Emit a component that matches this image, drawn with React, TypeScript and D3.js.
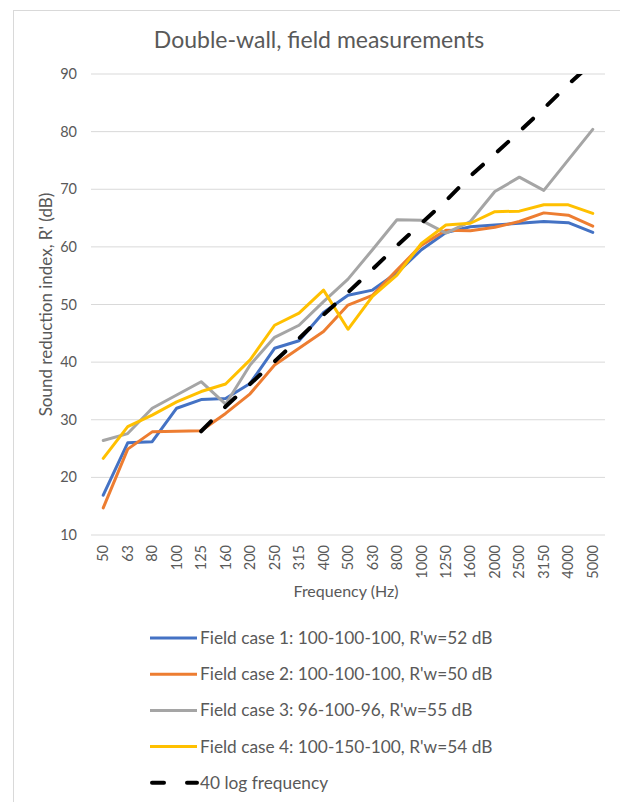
import React from "react";
import * as d3 from "d3";

const categories = ["50","63","80","100","125","160","200","250","315","400","500","630","800","1000","1250","1600","2000","2500","3150","4000","5000"];
const case1 = [16.9,26.0,26.2,32.0,33.5,33.7,36.3,42.4,43.7,48.6,51.6,52.5,55.5,59.5,62.5,63.5,63.8,64.1,64.4,64.2,62.5];
const case2 = [14.7,24.9,27.9,28.0,28.1,31.1,34.5,39.5,42.4,45.3,49.9,51.6,56.0,60.3,62.9,62.8,63.4,64.4,65.9,65.5,63.6];
const case3 = [26.4,27.6,32.0,34.3,36.6,32.7,39.5,44.3,46.4,50.5,54.4,59.5,64.7,64.6,62.4,64.4,69.6,72.1,69.8,75.1,80.4];
const case4 = [23.3,28.8,30.8,33.1,34.9,36.2,40.4,46.4,48.5,52.5,45.7,51.4,55.1,60.6,63.8,64.1,66.1,66.2,67.3,67.3,65.8];
const logRef: (number | null)[] = [null,null,null,null,28.0,32.3,36.2,40.1,44.1,48.2,52.1,56.1,60.2,64.1,68.0,72.3,76.1,80.0,84.0,88.2,92.0];
const yTicks = [10,20,30,40,50,60,70,80,90];

const seriesNames = [
  "Field case 1: 100-100-100, R'w=52 dB",
  "Field case 2: 100-100-100, R'w=50 dB",
  "Field case 3: 96-100-96, R'w=55 dB",
  "Field case 4: 100-150-100, R'w=54 dB",
  "40 log frequency",
];
const seriesColors = ["#4472C4", "#ED7D31", "#A5A5A5", "#FFC000", "#000000"];

const FONT = "Lato, 'Open Sans', sans-serif";
const TXT = "#595959";

export default function App() {
  const left = 91, right = 605, top = 74, bottom = 535;
  const x = d3.scaleBand<string>().domain(categories).range([left, right]).padding(0);
  const cx = (c: string) => (x(c) as number) + x.bandwidth() / 2;
  const y = d3.scaleLinear().domain([10, 90]).range([bottom, top]);

  const line = d3
    .line<number | null>()
    .defined((d) => d !== null)
    .x((_, i) => cx(categories[i]))
    .y((d) => y(d as number));

  const data = [case1, case2, case3, case4];

  return (
    <svg
      width={620}
      height={802}
      style={{ position: "absolute", left: 0, top: 0, background: "#fff" }}
      fontFamily={FONT}
    >
      <defs>
        <clipPath id="plotclip">
          <rect x={left - 10} y={top} width={right - left + 20} height={bottom - top + 20} />
        </clipPath>
      </defs>
      <rect x={13.5} y={10.5} width={640} height={820} fill="#fff" stroke="#d9d9d9" strokeWidth={1} />
      <text x={319} y={48} textAnchor="middle" fontSize={23} fill={TXT}>
        Double-wall, field measurements
      </text>
      {yTicks.map((t) => (
        <g key={t}>
          <line x1={left} x2={right} y1={y(t)} y2={y(t)} stroke="#d9d9d9" strokeWidth={1} />
          <text x={77} y={y(t)} dy="0.35em" textAnchor="end" fontSize={14.5} fill={TXT}>
            {t}
          </text>
        </g>
      ))}
      {categories.map((c) => (
        <text
          key={c}
          transform={`translate(${cx(c)},${bottom + 10}) rotate(-90)`}
          dy="0.35em"
          textAnchor="end"
          fontSize={14.5}
          fill={TXT}
        >
          {c}
        </text>
      ))}
      <text x={346} y={597} textAnchor="middle" fontSize={16} fill={TXT}>
        Frequency (Hz)
      </text>
      <text
        transform={`translate(46,${(top + bottom) / 2}) rotate(-90)`}
        dy="0.35em"
        textAnchor="middle"
        fontSize={17}
        fill={TXT}
      >
        Sound reduction index, R' (dB)
      </text>
      <g clipPath="url(#plotclip)">
        {data.map((d, i) => (
          <path
            key={i}
            d={line(d) || ""}
            fill="none"
            stroke={seriesColors[i]}
            strokeWidth={3}
            strokeLinejoin="round"
            strokeLinecap="round"
          />
        ))}
        <path
          d={line(logRef) || ""}
          fill="none"
          stroke="#000"
          strokeWidth={4}
          strokeDasharray="14 20"
          strokeLinecap="round"
        />
      </g>
      {seriesNames.map((n, i) => {
        const ly = 638 + i * 36.2;
        return (
          <g key={n}>
            {i < 4 ? (
              <line x1={150} x2={197} y1={ly} y2={ly} stroke={seriesColors[i]} strokeWidth={3} />
            ) : (
              <>
                <line x1={152} x2={164} y1={ly} y2={ly} stroke="#000" strokeWidth={4} strokeLinecap="round" />
                <line x1={187} x2={197} y1={ly} y2={ly} stroke="#000" strokeWidth={4} strokeLinecap="round" />
              </>
            )}
            <text x={200} y={ly} dy="0.35em" fontSize={17.3} fill={TXT}>
              {n}
            </text>
          </g>
        );
      })}
    </svg>
  );
}
